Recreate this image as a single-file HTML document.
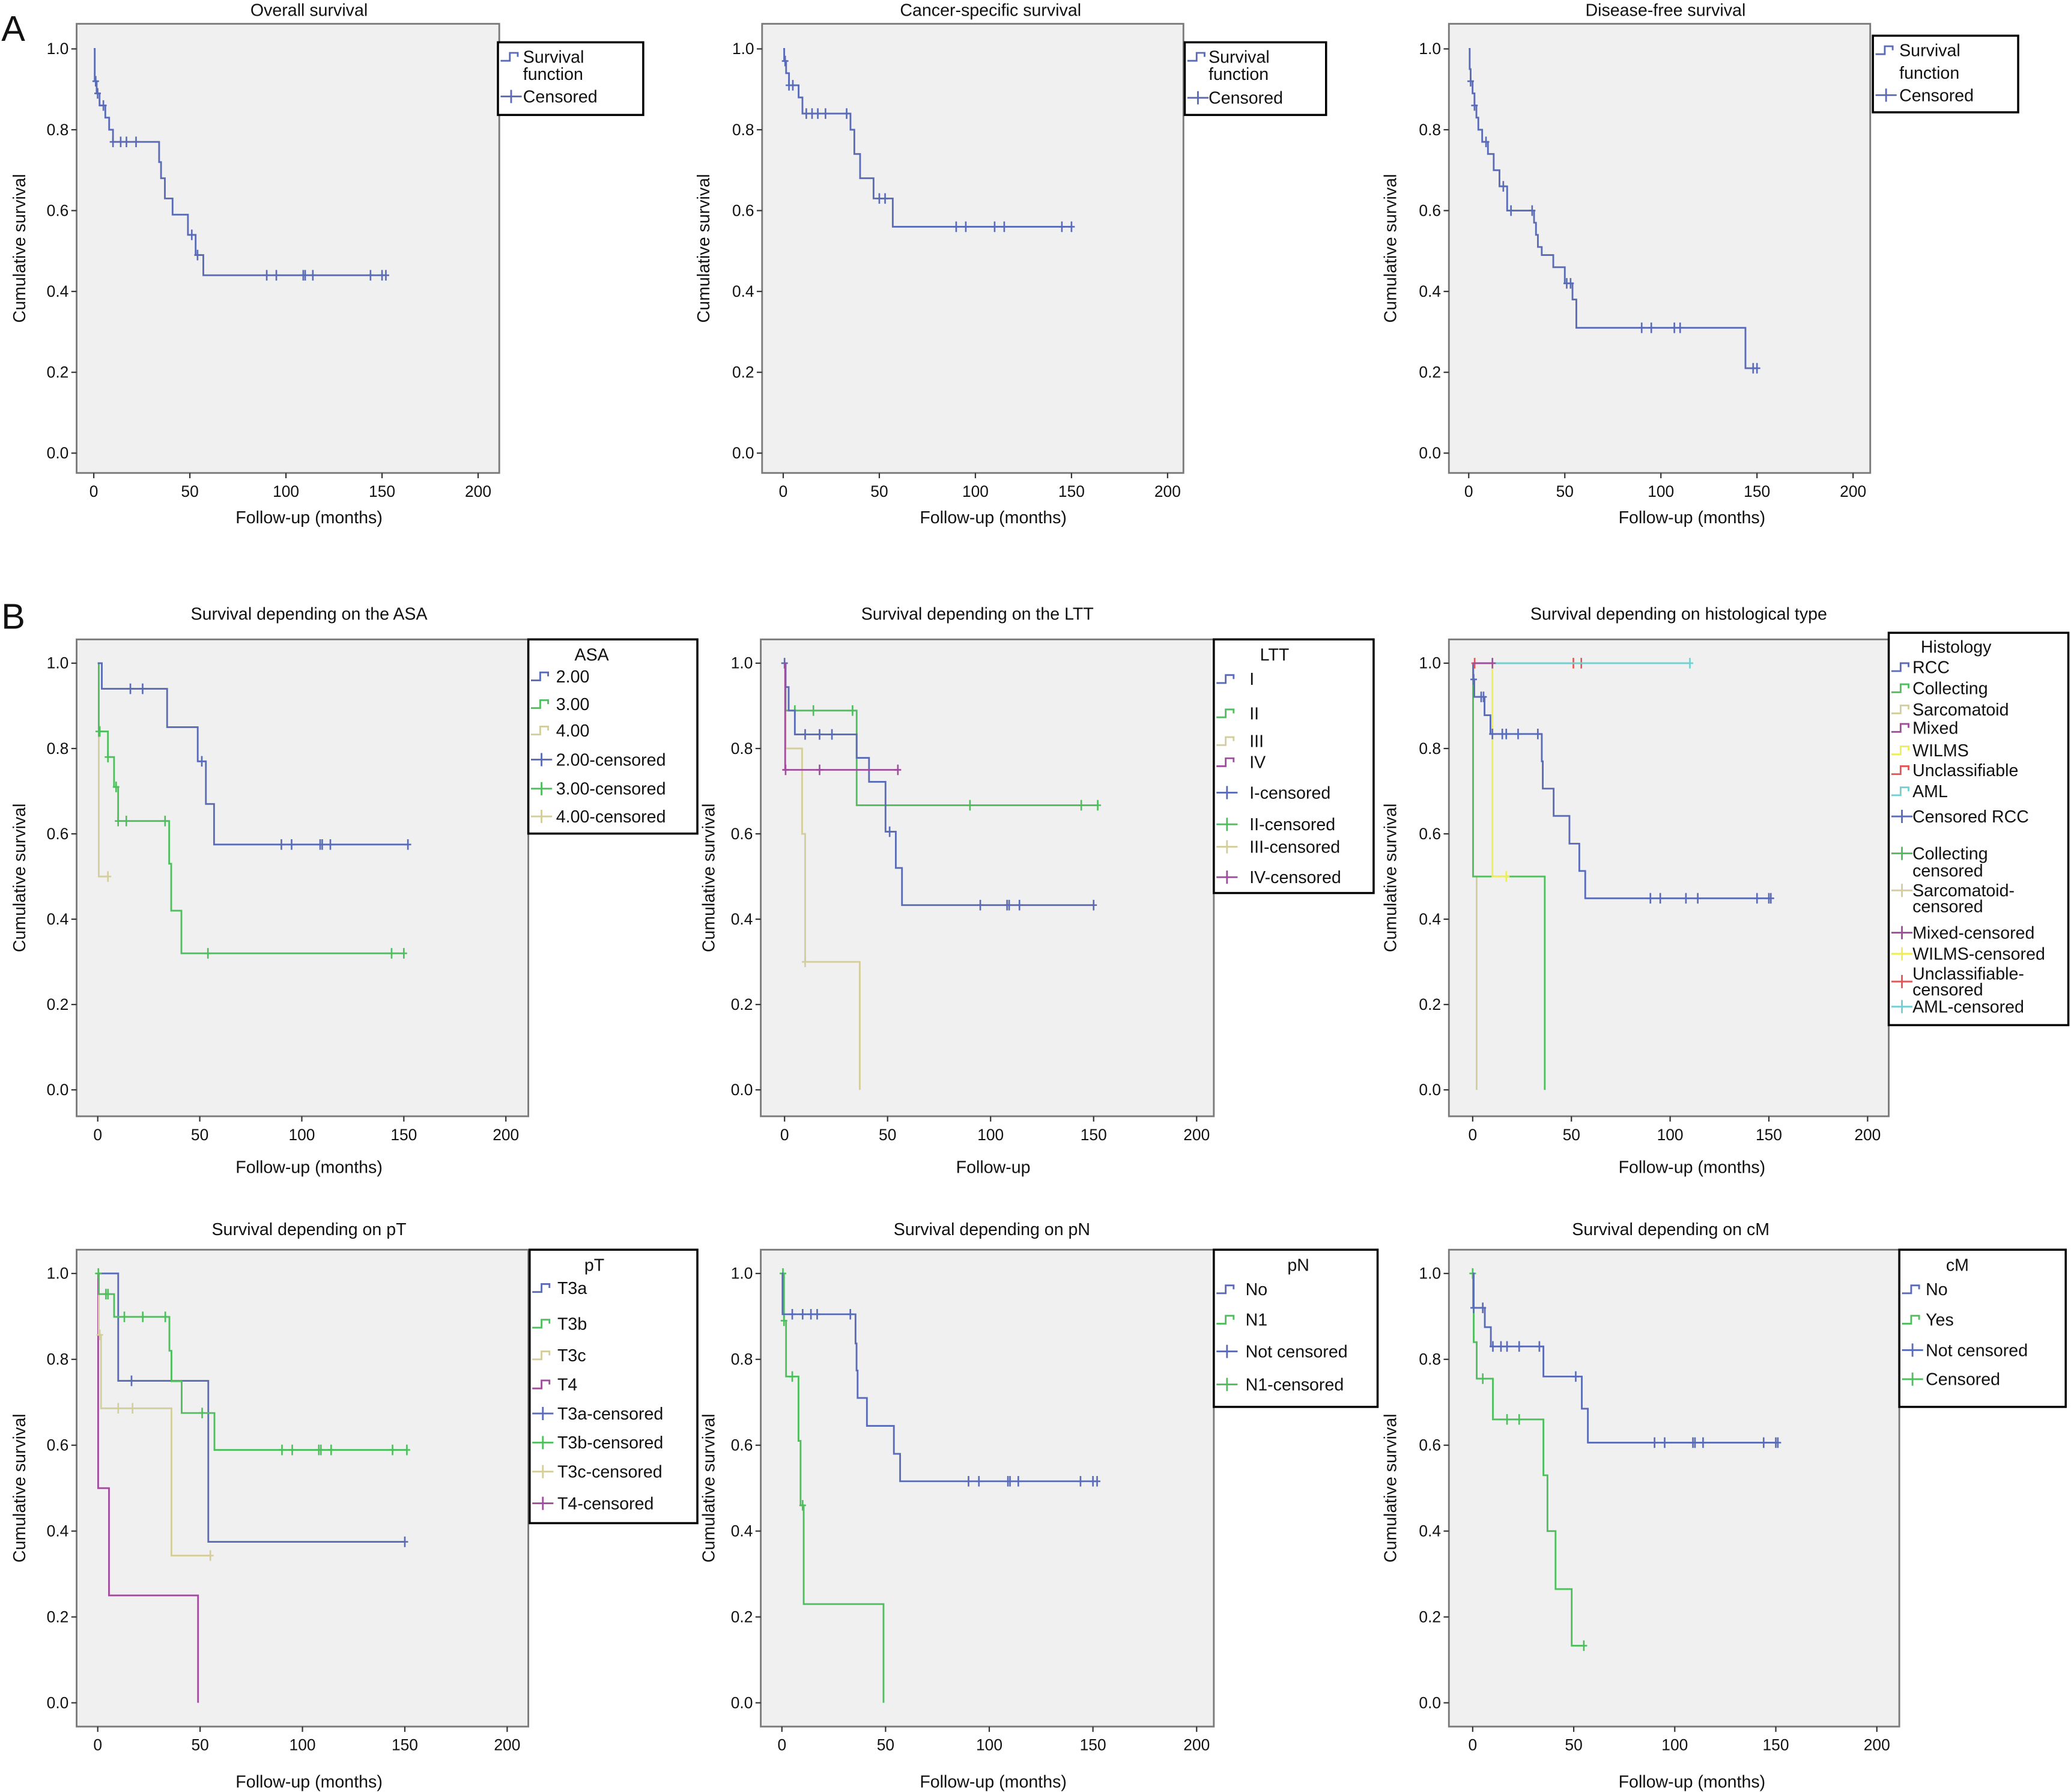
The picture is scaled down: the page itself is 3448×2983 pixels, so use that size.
<!DOCTYPE html>
<html><head><meta charset="utf-8"><title>Survival curves</title>
<style>
html,body{margin:0;padding:0;background:#fff;}
svg{display:block;}
text{font-family:"Liberation Sans",Arial,sans-serif;fill:#111;}
</style></head>
<body>
<svg id="fig" xmlns="http://www.w3.org/2000/svg" width="3448" height="2983" viewBox="0 0 1568 1356.5">
<rect x="0" y="0" width="1568" height="1356.5" fill="#fff"/>
<text x="1" y="31" font-size="27">A</text>
<text x="1" y="476" font-size="27">B</text>
</svg>
<script>
// ---------- DATA (months, survival) ----------
const os_t=[0.5,1.5,3,6,8,10,34,35,37,41,49,53,57];
const os_s=[0.92,0.89,0.86,0.83,0.80,0.77,0.72,0.68,0.63,0.59,0.54,0.49,0.44];
const os_c=[1,2,5,10,14,17,22,51,54,90,95,109,110,114,144,150,152];
const css_t=[0.5,1.5,3,8,10,35,37,40,47,57];
const css_s=[0.97,0.94,0.91,0.88,0.84,0.80,0.74,0.68,0.63,0.56];
const css_c=[1,3,5,12,15,18,22,33,50,53,90,95,110,115,145,150];
const dfs_t=[0.5,1,2,3,4,5,7,10,13,16,20,34,35,36,38,44,50,54,56,144];
const dfs_s=[0.95,0.92,0.89,0.86,0.83,0.80,0.77,0.74,0.70,0.66,0.60,0.57,0.54,0.51,0.49,0.46,0.42,0.38,0.31,0.21];
const dfs_c=[1,3,9,18,22,33,51,53,90,95,107,110,148,150];
const asa2_t=[2,34,49,53,57];
const asa2_s=[0.94,0.85,0.77,0.67,0.575];
const asa2_c=[16,22,51,90,95,109,110,114,152];
const asa3_t=[0.5,5,8,10,35,36,41];
const asa3_s=[0.84,0.78,0.71,0.63,0.53,0.42,0.32];
const asa3_c=[0.5,1,5,9,10,14,33,54,144,150];
const asa4_t=[0.5];
const asa4_s=[0.5];
const asa4_c=[5];
const ltt1_t=[0.5,2,5,35,41,49,54,57];
const ltt1_s=[0.944,0.889,0.833,0.778,0.722,0.605,0.52,0.433];
const ltt1_c=[0,10,17,23,51,95,108,109,114,150];
const ltt2_t=[0.5,35];
const ltt2_s=[0.889,0.667];
const ltt2_c=[5,14,33,90,144,152];
const ltt3_t=[0.5,8.5,10,36.5];
const ltt3_s=[0.80,0.60,0.30,0];
const ltt3_c=[10];
const ltt4_t=[0.3];
const ltt4_s=[0.75];
const ltt4_c=[0.5,17,55];
const rcc_t=[0.3,0.8,6,9,35,35.5,41,49,54,57];
const rcc_s=[0.962,0.921,0.878,0.834,0.77,0.706,0.642,0.577,0.513,0.449];
const rcc_c=[0.5,4.3,5.5,10,15,17,23,33,90,95,108,114,144,150,151];
const col_t=[0.2,36.5];
const col_s=[0.5,0];
const col_c=[];
const sar_t=[0.2,2];
const sar_s=[0.5,0];
const sar_c=[];
const wil_t=[10];
const wil_s=[0.5];
const wil_c=[17];
const unc_t=[];
const unc_s=[];
const unc_c=[1,51,55];
const mix_t=[];
const mix_s=[];
const mix_c=[10];
const aml_t=[];
const aml_s=[];
const aml_c=[110];
const t3a_t=[10,54];
const t3a_s=[0.75,0.375];
const t3a_c=[16.5,150];
const t3b_t=[0.5,8,35,36,41,57];
const t3b_s=[0.952,0.899,0.82,0.749,0.675,0.589];
const t3b_c=[0.3,4,5,13,22,33,51,90,95,108,109,114,144,151];
const t3c_t=[0.5,1.6,36];
const t3c_s=[0.857,0.686,0.343];
const t3c_c=[1,10,17,55];
const t4_t=[0.2,5.5,49];
const t4_s=[0.5,0.25,0];
const t4_c=[];
const pn0_t=[0.3,35.5,36,36.5,41,54,57];
const pn0_s=[0.905,0.837,0.774,0.71,0.645,0.58,0.516];
const pn0_c=[5,10,14,17,33,90,95,109,110,114,144,150,152];
const pn1_t=[1,2,8,9,10.5,49];
const pn1_s=[0.89,0.76,0.61,0.46,0.23,0];
const pn1_c=[0.5,1,5,10];
const cm0_t=[0.5,6,9,35,54,57];
const cm0_s=[0.92,0.875,0.83,0.76,0.685,0.606];
const cm0_c=[0.5,5,10,14,17,23,33,51,90,95,109,110,114,144,150,151];
const cm1_t=[0.2,0.5,2,10,35,37,41,49];
const cm1_s=[0.92,0.84,0.755,0.66,0.53,0.40,0.265,0.133];
const cm1_c=[0,5,17,23,55];

const xTicks=[0,50,100,150,200];
const yTicks=[0,0.2,0.4,0.6,0.8,1.0];

const COL={blue:'#5a6cb8',green:'#4fbf5e',tan:'#d4cd9c',purple:'#a04e9c',yellow:'#eeee5a',red:'#e65555',cyan:'#74d0d0'};
const NS='http://www.w3.org/2000/svg';
const svg=document.getElementById('fig');
function mk(tag,attrs,parent){const e=document.createElementNS(NS,tag);for(const k in attrs)e.setAttribute(k,attrs[k]);(parent||svg).appendChild(e);return e;}
function survAt(t,s,time){let v=1;for(let i=0;i<t.length;i++){if(t[i]<=time)v=s[i];}return v;}

function drawPanel(p){
  const g=mk('g',{});
  
  
  const X=v=>p.x0+(p.x200-p.x0)*v/200;
  const Y=v=>p.y0+(p.y1-p.y0)*v;
  const fr=mk('rect',{x:p.l,y:p.t,width:p.r-p.l,height:p.b-p.t,fill:'#f0f0f0',stroke:'#7a7a7a','stroke-width':1.3},g);
  
  
  const tt=mk('text',{x:p.titleX,y:p.titleY,'font-size':13,'text-anchor':'middle'},g);
  tt.textContent=p.title;
  
  
  yTicks.forEach(v=>{
    mk('line',{x1:p.l-4,x2:p.l,y1:Y(v),y2:Y(v),stroke:'#333','stroke-width':1},g);
    const tx=mk('text',{x:p.l-6,y:Y(v)+4,'font-size':12,'text-anchor':'end'},g);
    tx.textContent=v.toFixed(1);
    
    
  });
  xTicks.forEach(v=>{
    mk('line',{x1:X(v),x2:X(v),y1:p.b,y2:p.b+4,stroke:'#333','stroke-width':1},g);
    const tx=mk('text',{x:X(v),y:p.b+18,'font-size':12,'text-anchor':'middle'},g);
    tx.textContent=v;
    
    
  });
  const xl=mk('text',{x:p.xlabX,y:p.xlabY,'font-size':13,'text-anchor':'middle'},g);
  xl.textContent=p.xlab;
  
  
  const cy=(p.t+p.b)/2;
  const yl=mk('text',{x:p.ylabX,y:cy,'font-size':13,'text-anchor':'middle',transform:`rotate(-90 ${p.ylabX} ${cy})`},g);
  yl.textContent='Cumulative survival';
  
  
  p.series.forEach(se=>{
    const t=se.t,s=se.s,c=se.c;
    let end=0;t.forEach(v=>end=Math.max(end,v));c.forEach(v=>end=Math.max(end,v));
    let d=`M${X(0)},${Y(1)}`;
    for(let i=0;i<t.length;i++){d+=` H${X(t[i])} V${Y(s[i])}`;}
    d+=` H${X(end)}`;
    const ln=mk('path',{d:d,fill:'none',stroke:se.color,'stroke-width':1.3},g);
    
    
    let cd='';
    c.forEach(ct=>{const cx=X(ct),yy=Y(survAt(t,s,ct));cd+=`M${cx},${yy-4}V${yy+4}M${cx-2.5},${yy}H${cx+2.5}`;});
    if(cd){const cm=mk('path',{d:cd,fill:'none',stroke:se.color,'stroke-width':1.2},g);
      
      }
  });
  const L=p.legend;
  const lg=mk('g',{},g);
  
  
  mk('rect',{x:L.box[0],y:L.box[1],width:L.box[2]-L.box[0],height:L.box[3]-L.box[1],fill:'#fff',stroke:'#000','stroke-width':1.6},lg);
  if(L.head){const h=mk('text',{x:L.headX,y:L.headY+4,'font-size':13,'text-anchor':'middle'},lg);h.textContent=L.head;}
  L.items.forEach(it=>{
    const ix=L.box[0]+2;
    const ic=it.type==='step'
      ? mk('path',{d:`M${ix},${it.y+3}H${ix+7}V${it.y-3}H${ix+13}V${it.y}`,fill:'none',stroke:it.color,'stroke-width':1.3},lg)
      : mk('path',{d:`M${ix},${it.y}H${ix+16}M${ix+8},${it.y-5}V${it.y+5}`,fill:'none',stroke:it.color,'stroke-width':1.3},lg);
    
    
    it.lines.forEach((ln,k)=>{
      const tx=mk('text',{x:L.textX,y:it.ty[k]+4.5,'font-size':13},lg);
      tx.textContent=ln;
      
      
    });
  });
}
function S(id,t,s,c,color){return {id,t,s,c,color};}
function it(lines,y,type,color,ty){return {lines,y,type,color,ty:ty||[y]};}

const rowA={t:18,b:358,y1:37,y0:343,titleY:12,xlabY:396};
const rowB={t:484,b:845,y1:502,y0:825,titleY:469,xlabY:888};
const rowC={t:946,b:1307,y1:964,y0:1289,titleY:935,xlabY:1353};
const FU='Follow-up (months)';

drawPanel(Object.assign({name:'overall-survival-chart',l:58,r:378,x0:71,x200:362,title:'Overall survival',titleX:234,xlabX:234,xlab:FU,ylabX:19,
  series:[S('overall',os_t,os_s,os_c,COL.blue)],
  legend:{box:[377,32,487,87],textX:396,items:[it(['Survival','function'],43,'step',COL.blue,[43,56]),it(['Censored'],73,'cross',COL.blue)]}},rowA));
drawPanel(Object.assign({name:'cancer-specific-survival-chart',l:577,r:896,x0:593,x200:884,title:'Cancer-specific survival',titleX:750,xlabX:752,xlab:FU,ylabX:537,
  series:[S('cancer-specific',css_t,css_s,css_c,COL.blue)],
  legend:{box:[897,32,1004,87],textX:915,items:[it(['Survival','function'],43,'step',COL.blue,[43,56]),it(['Censored'],74,'cross',COL.blue)]}},rowA));
drawPanel(Object.assign({name:'disease-free-survival-chart',l:1097,r:1416,x0:1112,x200:1403,title:'Disease-free survival',titleX:1261,xlabX:1281,xlab:FU,ylabX:1057,
  series:[S('disease-free',dfs_t,dfs_s,dfs_c,COL.blue)],
  legend:{box:[1418,27,1528,85],textX:1438,items:[it(['Survival','function'],38,'step',COL.blue,[38,55]),it(['Censored'],72,'cross',COL.blue)]}},rowA));

drawPanel(Object.assign({name:'asa-survival-chart',l:58,r:400,x0:74,x200:383,title:'Survival depending on the ASA',titleX:234,xlabX:234,xlab:FU,ylabX:19,
  series:[S('asa-4',asa4_t,asa4_s,asa4_c,COL.tan),S('asa-3',asa3_t,asa3_s,asa3_c,COL.green),S('asa-2',asa2_t,asa2_s,asa2_c,COL.blue)],
  legend:{box:[400,484,528,631],textX:421,head:'ASA',headX:448,headY:496,items:[
    it(['2.00'],512,'step',COL.blue),it(['3.00'],533,'step',COL.green),it(['4.00'],553,'step',COL.tan),
    it(['2.00-censored'],575,'cross',COL.blue),it(['3.00-censored'],597,'cross',COL.green),it(['4.00-censored'],618,'cross',COL.tan)]}},rowB));
drawPanel(Object.assign({name:'ltt-survival-chart',l:576,r:919,x0:594,x200:906,title:'Survival depending on the LTT',titleX:740,xlabX:752,xlab:'Follow-up',ylabX:541,
  series:[S('ltt-3',ltt3_t,ltt3_s,ltt3_c,COL.tan),S('ltt-2',ltt2_t,ltt2_s,ltt2_c,COL.green),S('ltt-1',ltt1_t,ltt1_s,ltt1_c,COL.blue),S('ltt-4',ltt4_t,ltt4_s,ltt4_c,COL.purple)],
  legend:{box:[919,484,1040,676],textX:946,head:'LTT',headX:965,headY:496,items:[
    it(['I'],514,'step',COL.blue),it(['II'],540,'step',COL.green),it(['III'],561,'step',COL.tan),it(['IV'],577,'step',COL.purple),
    it(['I-censored'],600,'cross',COL.blue),it(['II-censored'],624,'cross',COL.green),it(['III-censored'],641,'cross',COL.tan),it(['IV-censored'],664,'cross',COL.purple)]}},rowB));
drawPanel(Object.assign({name:'histology-survival-chart',l:1097,r:1430,x0:1115,x200:1414,title:'Survival depending on histological type',titleX:1271,xlabX:1281,xlab:FU,ylabX:1057,
  series:[S('sarcomatoid',sar_t,sar_s,sar_c,COL.tan),S('collecting',col_t,col_s,col_c,COL.green),S('wilms',wil_t,wil_s,wil_c,COL.yellow),S('rcc',rcc_t,rcc_s,rcc_c,COL.blue),
    S('unclassifiable',unc_t,unc_s,unc_c,COL.red),S('aml',aml_t,aml_s,aml_c,COL.cyan),S('mixed',mix_t,mix_s,mix_c,COL.purple)],
  legend:{box:[1430,479,1566,776],textX:1448,head:'Histology',headX:1481,headY:490,items:[
    it(['RCC'],505,'step',COL.blue),it(['Collecting'],521,'step',COL.green),it(['Sarcomatoid'],537,'step',COL.tan),it(['Mixed'],551,'step',COL.purple),
    it(['WILMS'],568,'step',COL.yellow),it(['Unclassifiable'],583,'step',COL.red),it(['AML'],599,'step',COL.cyan),it(['Censored RCC'],618,'cross',COL.blue),
    it(['Collecting','censored'],646,'cross',COL.green,[646,659]),it(['Sarcomatoid-','censored'],674,'cross',COL.tan,[674,686]),
    it(['Mixed-censored'],706,'cross',COL.purple),it(['WILMS-censored'],722,'cross',COL.yellow),
    it(['Unclassifiable-','censored'],743,'cross',COL.red,[737,749]),it(['AML-censored'],762,'cross',COL.cyan)]}},rowB));

drawPanel(Object.assign({name:'pt-survival-chart',l:58,r:400,x0:74,x200:384,title:'Survival depending on pT',titleX:234,xlabX:234,xlab:FU,ylabX:19,
  series:[S('t4',t4_t,t4_s,t4_c,COL.purple),S('t3c',t3c_t,t3c_s,t3c_c,COL.tan),S('t3a',t3a_t,t3a_s,t3a_c,COL.blue),S('t3b',t3b_t,t3b_s,t3b_c,COL.green)],
  legend:{box:[401,946,528,1153],textX:422,head:'pT',headX:450,headY:958,items:[
    it(['T3a'],975,'step',COL.blue),it(['T3b'],1002,'step',COL.green),it(['T3c'],1026,'step',COL.tan),it(['T4'],1048,'step',COL.purple),
    it(['T3a-censored'],1070,'cross',COL.blue),it(['T3b-censored'],1092,'cross',COL.green),it(['T3c-censored'],1114,'cross',COL.tan),it(['T4-censored'],1138,'cross',COL.purple)]}},rowC));
drawPanel(Object.assign({name:'pn-survival-chart',l:576,r:919,x0:592,x200:906,title:'Survival depending on pN',titleX:751,xlabX:752,xlab:FU,ylabX:541,
  series:[S('pn1',pn1_t,pn1_s,pn1_c,COL.green),S('pn0',pn0_t,pn0_s,pn0_c,COL.blue)],
  legend:{box:[919,946,1043,1065],textX:943,head:'pN',headX:983,headY:958,items:[
    it(['No'],976,'step',COL.blue),it(['N1'],999,'step',COL.green),it(['Not censored'],1023,'cross',COL.blue),it(['N1-censored'],1048,'cross',COL.green)]}},rowC));
drawPanel(Object.assign({name:'cm-survival-chart',l:1097,r:1438,x0:1115,x200:1421,title:'Survival depending on cM',titleX:1265,xlabX:1281,xlab:FU,ylabX:1057,
  series:[S('cm-yes',cm1_t,cm1_s,cm1_c,COL.green),S('cm-no',cm0_t,cm0_s,cm0_c,COL.blue)],
  legend:{box:[1438,946,1564,1065],textX:1458,head:'cM',headX:1482,headY:958,items:[
    it(['No'],976,'step',COL.blue),it(['Yes'],999,'step',COL.green),it(['Not censored'],1022,'cross',COL.blue),it(['Censored'],1044,'cross',COL.green)]}},rowC));
</script>
</body></html>
